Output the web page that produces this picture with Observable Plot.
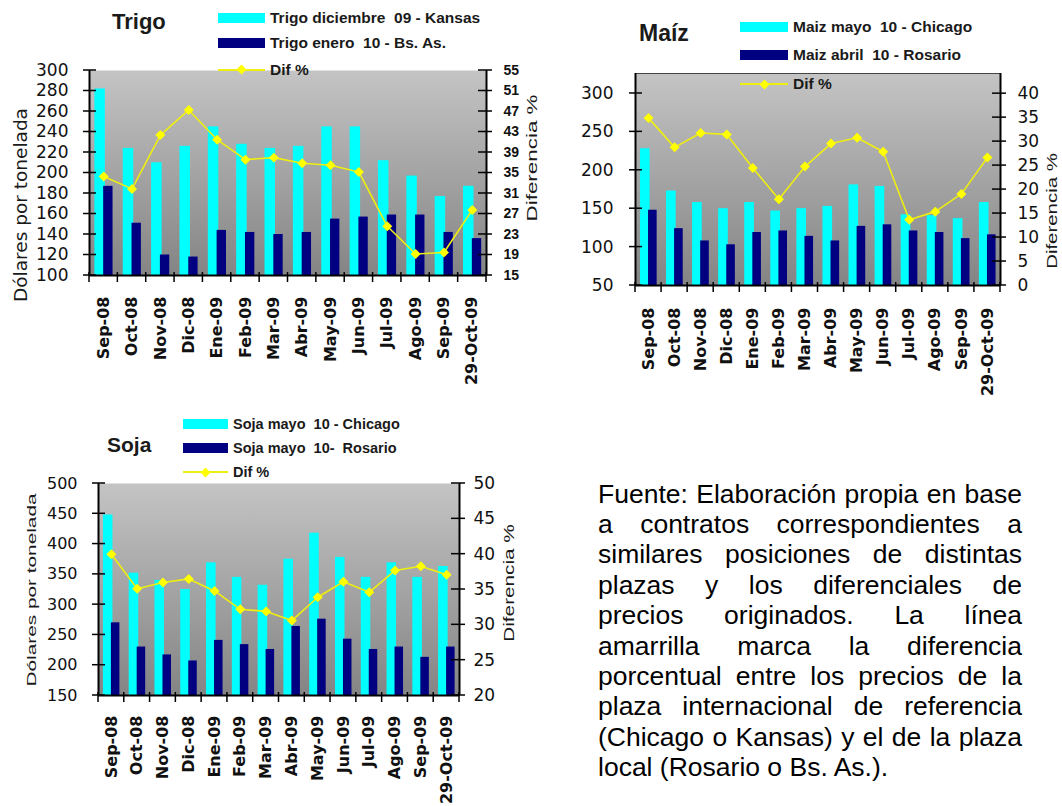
<!DOCTYPE html>
<html><head><meta charset="utf-8">
<script src="https://cdn.jsdelivr.net/npm/d3@7"></script>
<script src="https://cdn.jsdelivr.net/npm/@observablehq/plot@0.6"></script>
<style>
html,body{margin:0;padding:0;background:#fff;}
#page{position:relative;width:1062px;height:806px;overflow:hidden;background:#fff;font-family:"Liberation Sans",Arial,sans-serif;}
.abs{position:absolute;}
.title{position:absolute;font-weight:bold;color:#1a1a1a;white-space:nowrap;line-height:1;}
.leg{position:absolute;font-weight:bold;color:#1a1a1a;white-space:pre;}
.vlab{position:absolute;white-space:nowrap;color:#1a1a1a;line-height:1;}
.para{position:absolute;left:598px;top:478.6px;width:424px;font-size:26.5px;line-height:30.4px;color:#000;font-family:"Liberation Sans",Arial,sans-serif;}
.para div{text-align:justify;text-align-last:justify;}
.para div.last{text-align-last:left;}
</style></head>
<body><div id="page"></div>
<script>
// ---------- data ----------
const cats = ["Sep-08","Oct-08","Nov-08","Dic-08","Ene-09","Feb-09","Mar-09","Abr-09","May-09","Jun-09","Jul-09","Ago-09","Sep-09","29-Oct-09"];

const trigoKansas = [282,224,210,226,245,228,224,226,245,245,212,197,177,187];
const trigoBsAs   = [187,151,120,118,144,142,140,142,155,157,159,159,142,136];
const trigoDif    = [34.3,31.9,42.4,47.3,41.5,37.6,38.0,36.9,36.5,35.2,24.6,19.2,19.5,27.8];

const maizChicago = [228,173,158,150,158,147,150,153,181,179,142,141,137,158];
const maizRosario = [148,124,108,103,119,121,114,108,127,129,121,119,111,116];
const maizDif     = [34.9,28.8,31.8,31.5,24.5,18.0,24.8,29.6,30.8,27.9,13.7,15.4,19.1,26.7];

const sojaChicago = [448,352,340,325,369,345,332,375,418,378,345,369,345,363];
const sojaRosario = [270,230,217,207,241,234,226,264,276,243,226,230,213,230];
const sojaDif     = [40.0,35.1,36.0,36.5,34.8,32.2,31.9,30.6,33.9,36.1,34.6,37.7,38.3,37.1];

const trigoTicksL = [100,120,140,160,180,200,220,240,260,280,300];
const trigoTicksR = [15,19,23,27,31,35,39,43,47,51,55];
const maizTicksL  = [50,100,150,200,250,300];
const maizTicksR  = [0,5,10,15,20,25,30,35,40];
const sojaTicksL  = [150,200,250,300,350,400,450,500];
const sojaTicksR  = [20,25,30,35,40,45,50];

const trigoLegend = ["Trigo diciembre  09 - Kansas","Trigo enero  10 - Bs. As.","Dif %"];
const maizLegend  = ["Maiz mayo  10 - Chicago","Maiz abril  10 - Rosario","Dif %"];
const sojaLegend  = ["Soja mayo  10 - Chicago","Soja mayo  10-  Rosario","Dif %"];

const paraLines = [
  "Fuente: Elaboración propia en base",
  "a contratos correspondientes a",
  "similares posiciones de distintas",
  "plazas y los diferenciales de",
  "precios originados. La línea",
  "amarrilla marca la diferencia",
  "porcentual entre los precios de la",
  "plaza internacional de referencia",
  "(Chicago o Kansas) y el de la plaza",
  "local (Rosario o Bs. As.)."
];

// ---------- helpers ----------
const page = document.getElementById("page");
const CYAN = "#00ffff", NAVY = "#000080", YEL = "#ffff00", LINEY = "#eeee10";

function crossTicksY(ticks, side, outLen, inLen) {
  return (index, scales, values, dims) => {
    const g = d3.create("svg:g").attr("stroke", "#000").attr("stroke-width", 1.5);
    const x0 = side === "left" ? dims.marginLeft : dims.width - dims.marginRight;
    const s = side === "left" ? -1 : 1;
    for (const t of ticks) {
      const y = scales.y(t);
      g.append("line").attr("x1", x0 + s * outLen).attr("x2", x0 - s * inLen).attr("y1", y).attr("y2", y);
    }
    return g.node();
  };
}
function crossTicksX(ticks, outLen, inLen) {
  return (index, scales, values, dims) => {
    const g = d3.create("svg:g").attr("stroke", "#000").attr("stroke-width", 1.5);
    const y0 = dims.height - dims.marginBottom;
    for (const t of ticks) {
      const x = scales.x(t);
      g.append("line").attr("x1", x).attr("x2", x).attr("y1", y0 - inLen).attr("y2", y0 + outLen);
    }
    return g.node();
  };
}
function gradientDefs(id) {
  return () => {
    const d = d3.create("svg:defs");
    const lg = d.append("linearGradient").attr("id", id).attr("x1", 0).attr("x2", 0).attr("y1", 0).attr("y2", 1);
    lg.append("stop").attr("offset", "0%").attr("stop-color", "#c4c4c4");
    lg.append("stop").attr("offset", "100%").attr("stop-color", "#848484");
    return d.node();
  };
}

function addDiv(cls, text, css) {
  const el = document.createElement("div");
  el.className = cls;
  el.textContent = text;
  Object.assign(el.style, css);
  page.appendChild(el);
  return el;
}

function panel(cfg) {
  const data = cats.map((c, i) => ({i, c, a: cfg.a[i], b: cfg.b[i], d: cfg.d[i]}));
  const common = {
    width: cfg.w, height: cfg.h,
    marginLeft: cfg.ml, marginRight: cfg.mr, marginTop: cfg.mt, marginBottom: cfg.mb,
    style: {background: "transparent", overflow: "visible", color: "#111", maxWidth: "none"}
  };
  const gid = "grad-" + cfg.id;
  const bounds = d3.range(15).map(k => k - 0.5);
  const bars = Plot.plot({
    ...common,
    x: {domain: [-0.5, 13.5]},
    y: {domain: cfg.yL},
    marks: [
      gradientDefs(gid),
      Plot.frame({fill: `url(#${gid})`, stroke: cfg.frameStroke || "none", strokeWidth: 1}),
      Plot.rect(data, {x1: d => d.i - 0.31, x2: d => d.i + 0.06, y1: cfg.yL[0], y2: "a", fill: CYAN}),
      Plot.rect(data, {x1: d => d.i, x2: d => d.i + 0.33, y1: cfg.yL[0], y2: "b", fill: NAVY}),
      Plot.ruleY([cfg.yL[0]], {stroke: "#000", strokeWidth: 2}),
      Plot.ruleX([-0.5], {stroke: "#000", strokeWidth: 2}),
      crossTicksY(cfg.ticksL, "left", 6, 7),
      crossTicksX(bounds, 7, 3),
      Plot.axisY({ticks: cfg.ticksL, anchor: "left", tickSize: 0, tickPadding: cfg.padL, label: null,
        fontSize: cfg.fsL, fontFamily: "DejaVu Sans", tickFormat: d => String(d)}),
      Plot.axisX({ticks: d3.range(14), anchor: "bottom", tickSize: 0, tickPadding: cfg.padX, tickRotate: -90,
        label: null, tickFormat: i => cats[i], fontSize: 16, fontFamily: "DejaVu Sans", fontWeight: "bold"})
    ]
  });
  const over = Plot.plot({
    ...common,
    x: {domain: [-0.5, 13.5], axis: null},
    y: {domain: cfg.yR},
    marks: [
      Plot.ruleX([13.5], {stroke: "#000", strokeWidth: 2}),
      crossTicksY(cfg.ticksR, "right", 6, 8),
      Plot.axisY({ticks: cfg.ticksR, anchor: "right", tickSize: 0, tickPadding: cfg.padR, label: null,
        fontSize: cfg.fsR, fontFamily: cfg.ffR, fontWeight: cfg.fwR, tickFormat: d => String(d)}),
      Plot.line(data, {x: "i", y: "d", stroke: LINEY, strokeWidth: 1.6}),
      Plot.dot(data, {x: "i", y: "d", symbol: "diamond2", fill: YEL, stroke: "none", r: 4.5})
    ]
  });
  for (const svg of [bars, over]) {
    svg.style.position = "absolute";
    svg.style.left = cfg.left + "px";
    svg.style.top = cfg.top + "px";
    page.appendChild(svg);
  }
  // title
  addDiv("title", cfg.title, {left: cfg.tx + "px", top: cfg.ty + "px", fontSize: cfg.tfs + "px"});
  // legend
  const L = cfg.leg;
  const rows = cfg.legendText;
  const colors = [CYAN, NAVY];
  rows.forEach((t, k) => {
    const cy = L.rows[k];
    if (k < 2) {
      const sw = document.createElement("div");
      Object.assign(sw.style, {position: "absolute", left: L.x0 + "px", top: (cy - 5) + "px",
        width: (L.x1 - L.x0) + "px", height: "10px", background: colors[k]});
      page.appendChild(sw);
    } else {
      const ln = document.createElement("div");
      Object.assign(ln.style, {position: "absolute", left: L.x0 + "px", top: (cy - 1) + "px",
        width: (L.x1 - L.x0) + "px", height: "2px", background: LINEY});
      page.appendChild(ln);
      const dm = document.createElement("div");
      Object.assign(dm.style, {position: "absolute", left: ((L.x0 + L.x1) / 2 - 3.5) + "px", top: (cy - 3.5) + "px",
        width: "7px", height: "7px", background: YEL, transform: "rotate(45deg)"});
      page.appendChild(dm);
    }
    addDiv("leg", t, {left: L.tx + "px", top: (cy - 8) + "px", fontSize: L.fs + "px", lineHeight: "16px"});
  });
  // axis labels
  for (const v of cfg.vlabels) {
    addDiv("vlab", v.text, {left: v.cx + "px", top: v.cy + "px", fontSize: v.fs + "px", fontFamily: v.ff,
      transform: `translate(-50%,-50%) rotate(-90deg) scaleX(${v.s})`});
  }
}

panel({
  id: "trigo", a: trigoKansas, b: trigoBsAs, d: trigoDif,
  left: 0, top: 0, w: 545, h: 360, ml: 89, mr: 59, mt: 70, mb: 85,
  yL: [100, 300], ticksL: trigoTicksL, yR: [15, 55], ticksR: trigoTicksR,
  padL: 21, padR: 17, padX: 21, fsL: 17, fsR: 14, ffR: "Liberation Sans", fwR: "bold",
  title: "Trigo", tx: 112, ty: 11.4, tfs: 22,
  legendText: trigoLegend,
  leg: {x0: 218, x1: 265, tx: 270, rows: [17.5, 42.5, 69.5], fs: 15.5},
  vlabels: [
    {text: "Dólares por tonelada", cx: 21, cy: 205, fs: 18.5, ff: "DejaVu Sans", s: 1},
    {text: "Diferencia %", cx: 532, cy: 158, fs: 14, ff: "Liberation Sans", s: 1.6}
  ]
});

panel({
  id: "maiz", a: maizChicago, b: maizRosario, d: maizDif,
  left: 540, top: 0, w: 522, h: 410, ml: 95, mr: 62, mt: 73, mb: 125,
  yL: [50, 326], ticksL: maizTicksL, yR: [0, 44.2], ticksR: maizTicksR,
  padL: 22, padR: 17, padX: 22, fsL: 17, fsR: 17, ffR: "DejaVu Sans", fwR: "normal",
  frameStroke: "#444",
  title: "Maíz", tx: 639, ty: 21.5, tfs: 23,
  legendText: maizLegend,
  leg: {x0: 740, x1: 788, tx: 793, rows: [27, 55, 84], fs: 15.5},
  vlabels: [
    {text: "Diferencia %", cx: 1051, cy: 211, fs: 15, ff: "Liberation Sans", s: 1.36}
  ]
});

panel({
  id: "soja", a: sojaChicago, b: sojaRosario, d: sojaDif,
  left: 0, top: 410, w: 545, h: 396, ml: 98, mr: 86, mt: 73, mb: 111,
  yL: [150, 500], ticksL: sojaTicksL, yR: [20, 50], ticksR: sojaTicksR,
  padL: 21, padR: 14, padX: 20, fsL: 16, fsR: 17, ffR: "DejaVu Sans", fwR: "normal",
  title: "Soja", tx: 107, ty: 434, tfs: 21,
  legendText: sojaLegend,
  leg: {x0: 183, x1: 228, tx: 233, rows: [424, 448, 472], fs: 14.5},
  vlabels: [
    {text: "Dólares por tonelada", cx: 31, cy: 590, fs: 13, ff: "Liberation Sans", s: 1.6},
    {text: "Diferencia %", cx: 508, cy: 583, fs: 15, ff: "Liberation Sans", s: 1.38}
  ]
});

// paragraph
const para = document.createElement("div");
para.className = "para";
paraLines.forEach((t, k) => {
  const d = document.createElement("div");
  d.textContent = t;
  if (k === paraLines.length - 1) d.className = "last";
  para.appendChild(d);
});
page.appendChild(para);
</script>
</body></html>
